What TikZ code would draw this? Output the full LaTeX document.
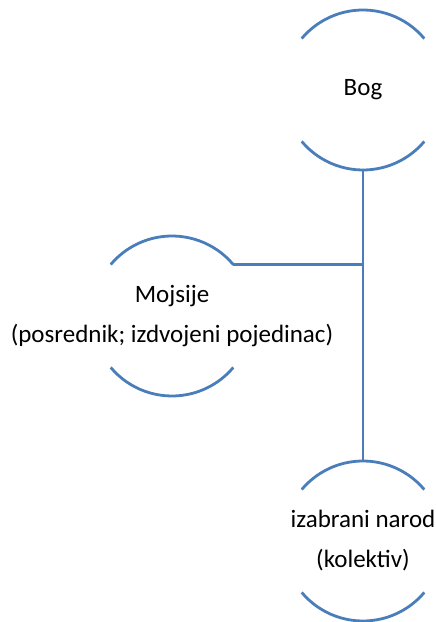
\documentclass[tikz,border=0pt]{standalone}
\usepackage{fontspec}
\setmainfont{Carlito}
\definecolor{arcblue}{RGB}{74,126,187}
\begin{document}
\begin{tikzpicture}[x=1pt,y=1pt,
  arcline/.style={draw=arcblue,line width=2.8pt},
  ring/.style={circle,minimum size=160pt,inner sep=0pt,outer sep=0pt},
  lbl/.style={font=\fontsize{25}{40}\selectfont,align=center,text=black,inner sep=0pt}]
\useasboundingbox (0,0) rectangle (436,622);
% circles (invisible shapes)
\node[ring] (bog) at (363,532) {};
\node[ring] (moj) at (172,306) {};
\node[ring] (narod) at (363,81) {};
% labels
\node[lbl] (bogt) at (bog.center) {Bog};
\node[lbl] (mojt) at (moj.center) {Mojsije\\(posrednik; izdvojeni pojedinac)};
\node[lbl] (narodt) at (narod.center) {izabrani narod\\(kolektiv)};
% arcs
\foreach \n in {bog,moj,narod}{
  \draw[arcline] (\n.40) arc[start angle=40,end angle=140,radius=80pt];
  \draw[arcline] (\n.220) arc[start angle=220,end angle=320,radius=80pt];
}
% connectors
\draw[arcline] (bog.south) -- (narod.north);
\coordinate (junc) at (bog.south |- moj.40);
\draw[arcline] (moj.40) -- (junc);
\end{tikzpicture}
\end{document}
